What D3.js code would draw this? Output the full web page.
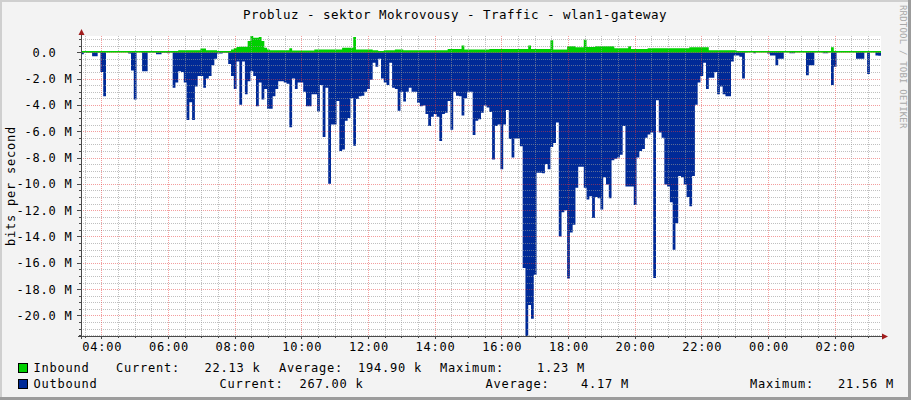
<!DOCTYPE html>
<html>
<head>
<meta charset="utf-8">
<script src="https://cdn.jsdelivr.net/npm/d3@7"></script>
<style>
  html, body { margin: 0; padding: 0; background: #f3f3f3; }
  svg { display: block; }
  text { font-family: "DejaVu Sans Mono", monospace; white-space: pre; }
</style>
</head>
<body>
<svg id="chart" width="911" height="400"></svg>
<script>
// ---------- DATA ----------
const title = "Probluz - sektor Mokrovousy - Traffic - wlan1-gateway";
const yAxisTitle = "bits per second";
const watermark = "RRDTOOL / TOBI OETIKER";
const startTime = new Date(2020, 0, 1, 3, 23, 30);
const stepSeconds = 300;
const spanSeconds = 86400;

// Outbound traffic (Mbit/s), 5-minute samples, drawn downward
const outbound = [
  0.15,0.05,0.05,0.05,0.3,0.3,0.05,1.5,3.35,0,
  0,0,0,0,0,0,0,0.1,1.4,3.6,
  0,0,1.45,1.45,0.02,0.02,0.02,0.15,0.15,0.05,
  0.05,0.08,0.02,2.7,2.3,1.45,1.5,2.3,5.15,3.8,
  5.15,2.6,1.8,1.8,2.7,2.0,1.8,1.0,0.5,0.1,
  0.1,0.05,0.05,0.9,1.8,2.8,0.7,4.0,0.7,3.2,
  2.2,1.45,1.8,4.1,2.3,3.6,2.8,4.3,4.3,3.35,
  2.8,2.2,2.2,2.3,2.4,5.7,2.0,2.8,2.3,2.3,
  3.0,4.1,4.1,3.2,3.2,4.5,2.5,6.45,2.7,10.0,
  5.5,5.5,3.7,7.5,7.4,5.2,5.0,3.5,7.1,3.55,
  3.35,3.3,3.0,2.8,2.1,0.8,1.1,0.5,2.0,2.3,
  2.5,0.8,2.7,2.8,4.45,3.0,3.75,3.0,2.7,3.0,
  3.0,3.85,4.1,4.05,4.7,5.6,4.9,4.7,4.9,6.75,
  4.7,4.6,3.7,5.9,3.0,3.3,3.35,4.8,3.5,3.0,
  3.0,6.3,5.2,5.1,4.6,4.05,4.2,4.55,8.15,5.6,
  5.5,8.9,5.5,4.4,6.6,8.0,6.55,6.55,7.15,16.4,
  21.56,19.2,20.25,16.9,9.15,9.15,9.2,8.5,8.9,7.2,
  6.9,5.35,14.0,12.15,12.0,17.2,13.7,13.1,10.3,8.7,
  8.7,10.3,11.2,10.95,12.6,11.0,11.1,11.95,9.5,10.05,
  11.1,8.2,8.1,8.0,7.8,5.6,10.2,10.2,10.2,11.6,
  8.0,7.5,7.35,6.5,6.25,6.1,17.15,3.65,6.1,6.5,
  10.05,10.2,11.4,15.0,13.0,9.4,9.5,10.05,11.0,11.7,
  9.4,4.0,2.3,1.8,0.8,2.8,1.95,1.95,1.5,3.2,
  2.6,3.2,3.35,3.35,0.7,0.25,0.25,0.35,2.0,0.02,
  0,0,0.08,0,0,0,0,0.1,0.25,0.25,
  1.0,0.5,0.5,0,0,0.08,0.08,0,0,0,
  0,1.75,1.0,1.0,0,0,0,0.08,0.08,0,
  2.5,1.1,0,0,0,0,0,0,0,0.5,
  0.5,0.5,0,1.65,0,0,0.25,0.27
];

// Inbound traffic (Mbit/s), 5-minute samples, drawn upward
const inbound = [
  0.02,0.02,0.02,0.02,0.02,0.02,0.02,0.02,0.02,0.02,
  0.02,0.02,0.02,0.02,0.02,0.02,0.02,0.02,0.02,0.02,
  0.02,0.02,0.02,0.02,0.02,0.02,0.02,0.02,0.02,0.02,
  0.02,0.02,0.08,0.08,0.08,0.15,0.15,0.15,0.15,0.15,
  0.15,0.15,0.15,0.28,0.28,0.15,0.15,0.15,0.15,0.05,
  0.05,0.05,0.05,0.05,0.2,0.3,0.4,0.42,0.42,0.42,
  0.85,1.23,1.1,1.1,1.15,0.85,0.33,0.2,0.15,0.15,
  0.15,0.15,0.15,0.15,0.15,0.3,0.13,0.13,0.13,0.13,
  0.13,0.13,0.13,0.13,0.2,0.2,0.2,0.2,0.2,0.2,
  0.2,0.2,0.2,0.2,0.33,0.33,0.33,0.33,1.15,0.2,
  0.2,0.2,0.2,0.2,0.2,0.15,0.15,0.05,0.05,0.15,
  0.15,0.15,0.15,0.2,0.2,0.2,0.15,0.15,0.15,0.15,
  0.15,0.15,0.15,0.15,0.15,0.15,0.15,0.15,0.15,0.15,
  0.15,0.15,0.25,0.25,0.25,0.25,0.25,0.5,0.2,0.2,
  0.2,0.2,0.2,0.2,0.2,0.2,0.2,0.25,0.25,0.25,
  0.25,0.25,0.25,0.25,0.25,0.25,0.25,0.25,0.25,0.25,
  0.25,0.5,0.25,0.25,0.25,0.25,0.25,0.25,0.25,0.9,
  0.2,0.2,0.2,0.2,0.2,0.45,0.45,0.45,0.38,0.38,
  0.38,0.95,0.4,0.4,0.4,0.45,0.45,0.45,0.45,0.45,
  0.45,0.45,0.3,0.3,0.3,0.3,0.3,0.45,0.25,0.25,
  0.25,0.25,0.25,0.25,0.3,0.3,0.3,0.3,0.3,0.3,
  0.3,0.3,0.3,0.3,0.3,0.3,0.3,0.3,0.3,0.38,
  0.38,0.38,0.38,0.38,0.38,0.38,0.15,0.15,0.15,0.15,
  0.15,0.15,0.15,0.15,0.15,0.15,0.05,0.05,0.05,0.05,
  0.05,0.05,0.05,0.02,0.02,0.02,0.02,0.02,0.02,0.02,
  0.02,0.02,0.02,0.02,0.02,0.02,0.02,0.02,0.02,0.02,
  0.02,0.02,0.02,0.02,0.02,0.02,0.02,0.02,0.02,0.02,
  0.38,0.02,0.02,0.02,0.02,0.02,0.02,0.02,0.02,0.02,
  0.02,0.02,0.02,0.02,0.02,0.02,0.02,0.02
];

const yDomainM = [-21.56, 1.23];
const yMajorValues = [0, -2, -4, -6, -8, -10, -12, -14, -16, -18, -20];
const yTickLabels = ["0.0", "-2.0 M", "-4.0 M", "-6.0 M", "-8.0 M", "-10.0 M", "-12.0 M", "-14.0 M", "-16.0 M", "-18.0 M", "-20.0 M"];
const xTickLabels = ["04:00", "06:00", "08:00", "10:00", "12:00", "14:00", "16:00", "18:00", "20:00", "22:00", "00:00", "02:00"];

const legendNames = ["Inbound", "Outbound"];
const legendCurrent = ["22.13 k", "267.00 k"];
const legendAverage = ["194.90 k", "4.17 M"];
const legendMaximum = ["1.23 M", "21.56 M"];

// ---------- STYLE / LAYOUT ----------
const W = 911, H = 400;
const plot = { left: 81, right: 881, top: 36, bottom: 336 };
const colIn = "#00CF00", colOut = "#002A97";
const minorGrid = "rgba(150,150,150,0.6)";
const majorGrid = "rgba(232,60,60,0.5)";
const axisCol = "#4a4a4a";
const arrowCol = "#a11d1d";
const fontStyle = (sel, size, ls) => sel.style("font-size", size + "px").style("letter-spacing", ls + "px");

const svg = d3.select("#chart");

// background + 3D frame
svg.append("rect").attr("width", W).attr("height", H).attr("fill", "#f3f3f3");
svg.append("rect").attr("x", 0).attr("y", 0).attr("width", W).attr("height", 2).attr("fill", "#cfcfcf");
svg.append("rect").attr("x", 0).attr("y", 0).attr("width", 2).attr("height", H).attr("fill", "#cfcfcf");
svg.append("rect").attr("x", 0).attr("y", H - 3).attr("width", W).attr("height", 3).attr("fill", "#9c9c9c");
svg.append("rect").attr("x", W - 3).attr("y", 0).attr("width", 3).attr("height", H).attr("fill", "#9c9c9c");

// canvas
svg.append("rect").attr("x", plot.left).attr("y", plot.top)
  .attr("width", plot.right - plot.left).attr("height", plot.bottom - plot.top).attr("fill", "#ffffff");

// scales
const endTime = new Date(startTime.getTime() + spanSeconds * 1000);
const x = d3.scaleTime().domain([startTime, endTime]).range([plot.left, plot.right]);
const y = d3.scaleLinear().domain(yDomainM).range([plot.bottom, plot.top]);

function series(vals, sign) {
  const pts = vals.map((v, i) => ({ t: new Date(startTime.getTime() + i * stepSeconds * 1000), v: sign * v }));
  const last = vals[vals.length - 1];
  pts.push({ t: new Date(startTime.getTime() + vals.length * stepSeconds * 1000), v: sign * last });
  return pts;
}
svg.append("clipPath").attr("id", "plotclip").append("rect")
  .attr("x", plot.left).attr("y", plot.top).attr("width", plot.right - plot.left).attr("height", plot.bottom - plot.top);

const area = d3.area().curve(d3.curveStepAfter)
  .x(d => x(d.t)).y0(y(0)).y1(d => y(d.v));

const g = svg.append("g").attr("clip-path", "url(#plotclip)");
g.append("path").datum(series(outbound, -1)).attr("d", area).attr("fill", colOut);
g.append("path").datum(series(inbound, 1)).attr("d", area).attr("fill", colIn);
g.append("line").attr("x1", plot.left).attr("x2", plot.right)
  .attr("y1", y(0) - 0.5).attr("y2", y(0) - 0.5).attr("stroke", colIn).attr("stroke-width", 1.6);

// grid (drawn above data as RRDtool does)
const grid = svg.append("g").attr("shape-rendering", "crispEdges");
const minorY = d3.range(-21.5, 1.01, 0.5).filter(v => Math.abs(v % 2) > 1e-9 || v > 0);
minorY.forEach(v => {
  const yy = Math.round(y(v)) + 0.5;
  grid.append("line").attr("x1", plot.left).attr("x2", plot.right).attr("y1", yy).attr("y2", yy)
    .attr("stroke", minorGrid).attr("stroke-dasharray", "1,1");
  grid.append("line").attr("x1", plot.left - 2).attr("x2", plot.left).attr("y1", yy).attr("y2", yy).attr("stroke", axisCol);
});
yMajorValues.forEach(v => {
  const yy = Math.round(y(v)) + 0.5;
  grid.append("line").attr("x1", plot.left).attr("x2", plot.right).attr("y1", yy).attr("y2", yy)
    .attr("stroke", majorGrid).attr("stroke-dasharray", "1,1");
  grid.append("line").attr("x1", plot.left - 4).attr("x2", plot.left).attr("y1", yy).attr("y2", yy).attr("stroke", axisCol);
});
const minorX = d3.timeMinute.every(30).range(startTime, endTime);
const majorX = d3.timeHour.every(2).range(startTime, endTime);
minorX.forEach(t => {
  if (t.getMinutes() === 0 && t.getHours() % 2 === 0) return;
  const xx = Math.round(x(t)) + 0.5;
  grid.append("line").attr("x1", xx).attr("x2", xx).attr("y1", plot.top).attr("y2", plot.bottom)
    .attr("stroke", minorGrid).attr("stroke-dasharray", "1,1");
  grid.append("line").attr("x1", xx).attr("x2", xx).attr("y1", plot.bottom).attr("y2", plot.bottom + 2).attr("stroke", axisCol);
});
majorX.forEach(t => {
  const xx = Math.round(x(t)) + 0.5;
  grid.append("line").attr("x1", xx).attr("x2", xx).attr("y1", plot.top).attr("y2", plot.bottom)
    .attr("stroke", majorGrid).attr("stroke-dasharray", "1,1");
  grid.append("line").attr("x1", xx).attr("x2", xx).attr("y1", plot.bottom).attr("y2", plot.bottom + 3).attr("stroke", axisCol);
});

// axes
svg.append("line").attr("x1", plot.left - 3).attr("x2", plot.right + 2)
  .attr("y1", plot.bottom + 0.5).attr("y2", plot.bottom + 0.5).attr("stroke", axisCol).attr("shape-rendering", "crispEdges");
svg.append("line").attr("x1", plot.left + 0.5).attr("x2", plot.left + 0.5)
  .attr("y1", plot.bottom + 3).attr("y2", plot.top - 2).attr("stroke", axisCol).attr("shape-rendering", "crispEdges");
svg.append("path").attr("d", `M${plot.left - 2.5},${plot.top - 1} L${plot.left + 0.5},${plot.top - 7} L${plot.left + 3.5},${plot.top - 1} Z`).attr("fill", arrowCol);
svg.append("path").attr("d", `M${plot.right + 1},${plot.bottom - 2.5} L${plot.right + 7},${plot.bottom + 0.5} L${plot.right + 1},${plot.bottom + 3.5} Z`).attr("fill", arrowCol);

// y tick labels
yMajorValues.forEach((v, i) => {
  const lbl = yTickLabels[i];
  const hasUnit = lbl.endsWith("M");
  svg.append("text").attr("x", hasUnit ? 72.5 : 56.5).attr("y", y(v) + 4.5)
    .attr("text-anchor", "end").attr("fill", "#000").text(lbl)
    .call(s => fontStyle(s, 12, 0.78));
});

// x tick labels
majorX.forEach((t, i) => {
  svg.append("text").attr("x", x(t) + 1).attr("y", 351)
    .attr("text-anchor", "middle").attr("fill", "#000").text(xTickLabels[i])
    .call(s => fontStyle(s, 12, 0.78));
});

// title
svg.append("text").attr("x", 455).attr("y", 19).attr("text-anchor", "middle").attr("fill", "#000")
  .text(title).call(s => fontStyle(s, 12.5, 0.47));

// y-axis title
svg.append("text").attr("transform", `translate(15,${(plot.top + plot.bottom) / 2}) rotate(-90)`)
  .attr("text-anchor", "middle").attr("fill", "#000").text(yAxisTitle)
  .call(s => fontStyle(s, 12, 0.78));

// watermark
svg.append("text").attr("transform", "translate(900,5) rotate(90)")
  .attr("fill", "#a8a8a8").text(watermark).call(s => fontStyle(s, 9, 0.2));

// legend
const legendRows = [
  { y: 372, color: colIn, pos: [33.5, 116, 204.5, 279, 358, 440, 537] },
  { y: 388, color: colOut, pos: [33.5, 219.5, 299.5, 485.5, 581, 750, 838] }
];
legendRows.forEach((r, i) => {
  svg.append("rect").attr("x", 18.5).attr("y", r.y - 8.5).attr("width", 9).attr("height", 9)
    .attr("fill", r.color).attr("stroke", "#000").attr("stroke-width", 1);
  const parts = [legendNames[i], "Current:", legendCurrent[i], "Average:", legendAverage[i], "Maximum:", legendMaximum[i]];
  parts.forEach((p, k) => {
    svg.append("text").attr("x", r.pos[k]).attr("y", r.y).attr("fill", "#000").text(p)
      .call(s => fontStyle(s, 12, 0.78));
  });
});
</script>
</body>
</html>
